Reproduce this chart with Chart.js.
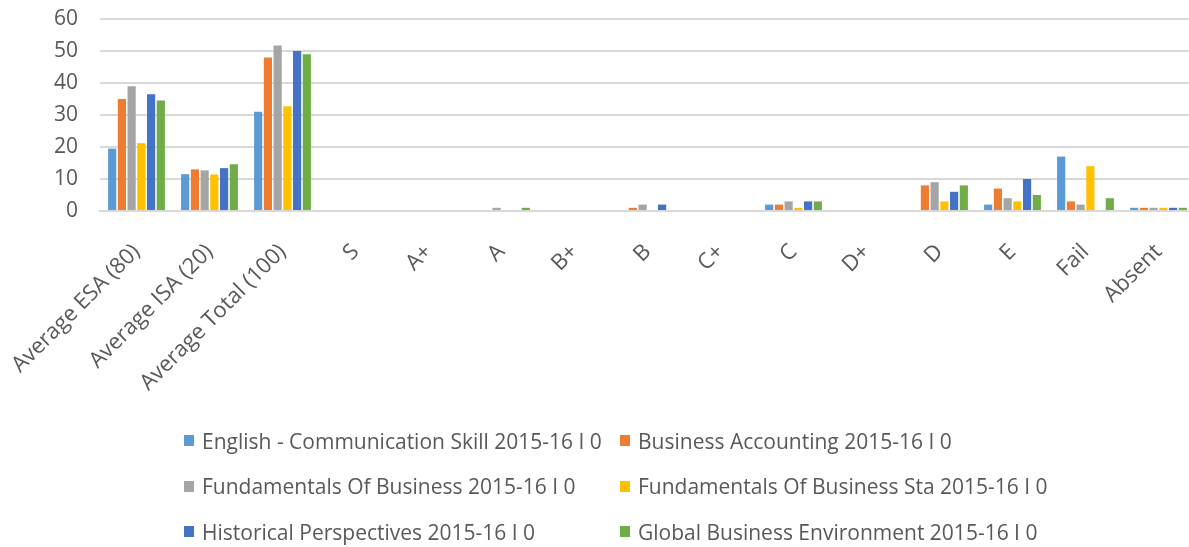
<!DOCTYPE html>
<html lang="en">
  <head>
    <meta charset="UTF-8" />
    <title>Results 2015-16</title>
    <script src="https://cdn.jsdelivr.net/npm/chart.js@4.4.1/dist/chart.umd.min.js"></script>
    <style>
      html,
      body {
        margin: 0;
        padding: 0;
        background: #fff;
        overflow: hidden;
        width: 1189px;
        height: 547px;
      }
      .chart-container {
        position: absolute;
        left: 0;
        top: 0;
        width: 1196px;
        height: 420px;
      }
      #legend {
        position: absolute;
        left: 184px;
        top: 418px;
        display: grid;
        grid-template-columns: 436px auto;
        grid-auto-rows: 45.5px;
        font-family: "Open Sans", sans-serif;
        font-size: 21px;
        color: #595959;
      }
      #legend .item {
        display: flex;
        align-items: center;
        white-space: nowrap;
      }
      #legend .box {
        width: 10px;
        height: 11px;
        margin-right: 8px;
      }
    </style>
  </head>
  <body>
    <div class="chart-container">
      <canvas id="chart"></canvas>
    </div>
    <div id="legend"></div>
  </body>
  <script>
    const categories = [
      "Average ESA (80)",
      "Average ISA (20)",
      "Average Total (100)",
      "S",
      "A+",
      "A",
      "B+",
      "B",
      "C+",
      "C",
      "D+",
      "D",
      "E",
      "Fail",
      "Absent",
    ];

    const seriesNames = [
      "English - Communication Skill 2015-16 I 0",
      "Business Accounting 2015-16 I 0",
      "Fundamentals Of Business 2015-16 I 0",
      "Fundamentals Of Business Sta 2015-16 I 0",
      "Historical Perspectives 2015-16 I 0",
      "Global Business Environment 2015-16 I 0",
    ];

    const seriesColors = ["#5B9BD5", "#ED7D31", "#A5A5A5", "#FFC000", "#4472C4", "#70AD47"];

    // one array per subject, same order as categories
    const english = [19.5, 11.5, 31, 0, 0, 0, 0, 0, 0, 2, 0, 0, 2, 17, 1];
    const accounting = [35, 13, 48, 0, 0, 0, 0, 1, 0, 2, 0, 8, 7, 3, 1];
    const fundamentals = [39, 12.7, 51.7, 0, 0, 1, 0, 2, 0, 3, 0, 9, 4, 2, 1];
    const fundamentalsSta = [21.2, 11.4, 32.7, 0, 0, 0, 0, 0, 0, 1, 0, 3, 3, 14, 1];
    const historical = [36.5, 13.4, 50, 0, 0, 0, 0, 2, 0, 3, 0, 6, 10, 0, 1];
    const globalBusiness = [34.5, 14.6, 49, 0, 0, 1, 0, 0, 0, 3, 0, 8, 5, 4, 1];

    const yTicks = [0, 10, 20, 30, 40, 50, 60];

    const seriesValues = [english, accounting, fundamentals, fundamentalsSta, historical, globalBusiness];

    const textColor = "#595959";
    const gridColor = "#D9D9D9";

    const ctx = document.getElementById("chart").getContext("2d");

    new Chart(ctx, {
      type: "bar",
      data: {
        labels: categories,
        datasets: seriesNames.map((name, i) => ({
          label: name,
          data: seriesValues[i],
          backgroundColor: seriesColors[i],
          borderWidth: 0,
          categoryPercentage: 0.8,
          barPercentage: 0.84,
        })),
      },
      options: {
        responsive: true,
        maintainAspectRatio: false,
        animation: false,
        layout: {
          padding: { top: 19, right: 1, bottom: 0, left: 0 },
        },
        plugins: {
          legend: { display: false },
          tooltip: { enabled: false },
        },
        scales: {
          x: {
            // invisible tick marks used as the gap between axis and labels
            grid: {
              display: true,
              drawOnChartArea: false,
              drawTicks: true,
              tickLength: 28,
              color: "transparent",
              tickColor: "transparent",
            },
            border: { display: true, color: gridColor, width: 2 },
            ticks: {
              color: textColor,
              font: { family: "Open Sans", size: 22 },
              minRotation: 45,
              maxRotation: 45,
              autoSkip: false,
              padding: 0,
            },
            afterFit: (axis) => {
              axis.height = 209;
            },
          },
          y: {
            min: yTicks[0],
            max: yTicks[yTicks.length - 1],
            afterBuildTicks: (axis) => {
              axis.ticks = yTicks.map((v) => ({ value: v }));
            },
            grid: {
              color: gridColor,
              lineWidth: 2,
              drawTicks: true,
              tickLength: 22,
              tickColor: "transparent",
            },
            border: { display: false },
            ticks: {
              color: textColor,
              font: { family: "Open Sans", size: 21 },
              padding: 0,
            },
            afterFit: (axis) => {
              axis.width = 100;
            },
          },
        },
      },
    });

    const legend = document.getElementById("legend");
    seriesNames.forEach((name, i) => {
      const item = document.createElement("div");
      item.className = "item";
      const box = document.createElement("span");
      box.className = "box";
      box.style.background = seriesColors[i];
      const label = document.createElement("span");
      label.textContent = name;
      item.appendChild(box);
      item.appendChild(label);
      legend.appendChild(item);
    });
  </script>
</html>
